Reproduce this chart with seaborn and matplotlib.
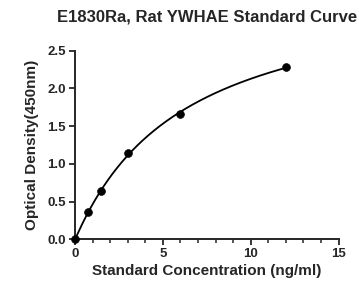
import numpy as np
import pandas as pd
import matplotlib
matplotlib.use("Agg")
import matplotlib.pyplot as plt
import seaborn as sns

# Standard curve points
conc = [0, 0.75, 1.5, 3, 6, 12]
od = [0.0, 0.358, 0.64, 1.147, 1.664, 2.278]
x_ticks = [0, 5, 10, 15]
y_ticks = [0.0, 0.5, 1.0, 1.5, 2.0, 2.5]

sns.set_style("ticks")
plt.rcParams["font.family"] = ["Liberation Sans", "DejaVu Sans"]
plt.rcParams["font.weight"] = "bold"

df = pd.DataFrame({"conc": conc, "od": od})

# saturating fit y = top * x^n / (k^n + x^n), grid search on k, n
x = np.array(conc, dtype=float)
y = np.array(od, dtype=float)
best = None
for k in np.linspace(1, 30, 300):
    for n in np.linspace(0.5, 1.5, 101):
        g = x**n / (k**n + x**n)
        top = (g @ y) / (g @ g)
        err = ((top * g - y) ** 2).sum()
        if best is None or err < best[0]:
            best = (err, k, n, top)
_, k, n, top = best
xs = np.linspace(0, 12, 200)
fit = pd.DataFrame({"conc": xs, "od": top * xs**n / (k**n + xs**n)})

fig, ax = plt.subplots(figsize=(3.59, 2.89), dpi=100)
fig.subplots_adjust(left=0.209, right=0.943, bottom=0.172, top=0.825)

sns.lineplot(data=fit, x="conc", y="od", color="black", linewidth=1.3, ax=ax)
sns.scatterplot(data=df, x="conc", y="od", color="black", s=32, edgecolor="black",
                zorder=5, clip_on=False, ax=ax)

ax.set_xlim(0, 15)
ax.set_ylim(0, 2.5)
ax.set_xticks(x_ticks)
ax.set_xticks(np.arange(0, 16, 1), minor=True)
ax.set_yticks(y_ticks)
ax.set_yticklabels([f"{v:.1f}" for v in y_ticks])
ax.tick_params(axis="both", which="major", length=4.5, width=1.3, labelsize=9.5, pad=2)
ax.tick_params(axis="x", which="minor", length=3, width=1.1)
for lab in ax.get_xticklabels() + ax.get_yticklabels():
    lab.set_fontweight("bold")
for s in ["left", "bottom"]:
    ax.spines[s].set_linewidth(1.4)
sns.despine(ax=ax)

ax.set_xlabel("Standard Concentration (ng/ml)", fontsize=11, fontweight="bold", labelpad=3)
ax.set_ylabel("Optical Density(450nm)", fontsize=11, fontweight="bold", labelpad=6)
ax.set_title("E1830Ra, Rat YWHAE Standard Curve", fontsize=12, fontweight="bold", pad=21)

fig.savefig("out.png", dpi=100)
